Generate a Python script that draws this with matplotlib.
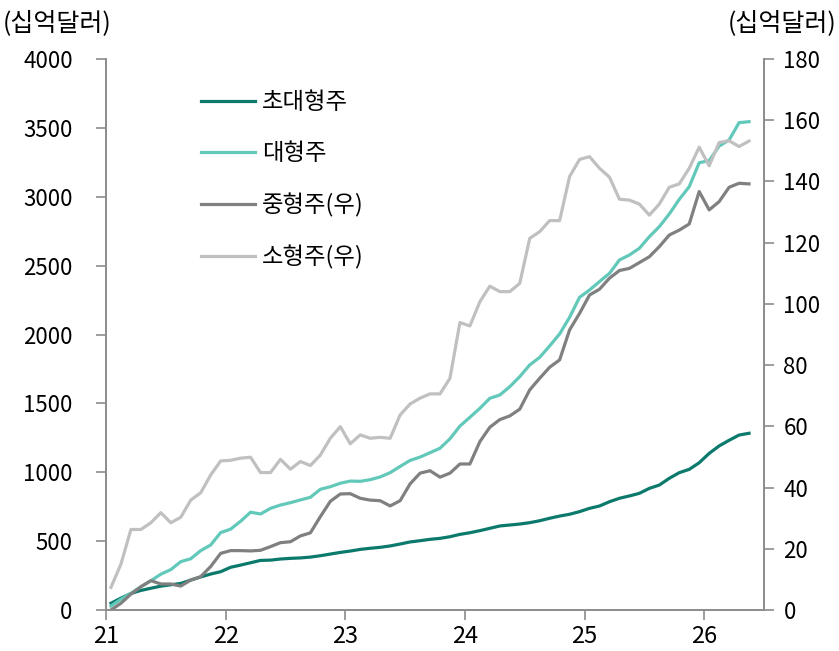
#초대형주/대형주(좌) vs 중형주/소형주(우) 추이 (십억달러)
import matplotlib
matplotlib.use('Agg')
import matplotlib.pyplot as plt
import numpy as np

plt.rcParams['font.family'] = ['Noto Sans CJK KR', 'DejaVu Sans']   #한글 깨짐 방지

# 2021.01 ~ 2026.05 월별 값
super_large = [49, 86, 120, 142, 158, 173, 183, 193, 217, 240, 261, 278, 310, 326, 343, 360,
               362, 370, 375, 378, 384, 394, 406, 418, 428, 440, 448, 455, 465, 479, 494, 503,
               513, 520, 532, 549, 561, 576, 593, 610, 617, 624, 634, 648, 666, 682, 695, 714,
               738, 755, 786, 811, 828, 847, 883, 907, 956, 997, 1021, 1069, 1137, 1191, 1232,
               1270, 1283]
large = [29, 78, 121, 169, 212, 260, 293, 351, 372, 431, 472, 562, 587, 644, 710, 697,
         738, 762, 779, 799, 818, 876, 895, 920, 936, 934, 946, 966, 997, 1042, 1086, 1110,
         1142, 1174, 1243, 1335, 1399, 1464, 1537, 1561, 1621, 1694, 1779, 1834, 1917, 2004,
         2125, 2270, 2323, 2384, 2444, 2541, 2577, 2626, 2710, 2783, 2875, 2981, 3073, 3247,
         3262, 3368, 3412, 3538, 3545]
mid = [0, 2.2, 5.2, 7.6, 9.6, 8.5, 8.5, 7.8, 9.8, 10.9, 14.2, 18.5, 19.4, 19.4, 19.3, 19.5,
       20.7, 22.0, 22.3, 24.2, 25.2, 30.5, 35.5, 37.9, 38.0, 36.5, 35.9, 35.7, 34.0, 35.7,
       41.2, 44.7, 45.5, 43.4, 44.7, 47.7, 47.7, 55.0, 59.7, 62.2, 63.4, 65.6, 71.9, 75.7,
       79.3, 81.7, 91.5, 96.9, 102.9, 104.8, 108.4, 110.9, 111.6, 113.5, 115.4, 118.7, 122.5,
       124.1, 126.1, 136.7, 130.7, 133.4, 138.1, 139.4, 139.2]
small = [7.4, 15.0, 26.3, 26.3, 28.5, 31.8, 28.5, 30.3, 35.9, 38.3, 44.1, 48.7, 48.9, 49.6,
         49.9, 44.9, 44.9, 49.2, 46.0, 48.5, 47.2, 50.6, 56.1, 59.9, 54.3, 57.2, 56.1, 56.4,
         56.1, 63.7, 67.3, 69.2, 70.6, 70.6, 75.7, 93.9, 92.8, 100.7, 105.8, 104.0, 104.0,
         106.7, 121.4, 123.6, 127.2, 127.2, 141.6, 147.2, 148.1, 144.3, 141.4, 134.2, 133.9,
         132.6, 129.0, 132.6, 138.1, 139.2, 144.3, 151.2, 145.1, 152.7, 153.3, 151.4, 153.2]
labels = ['초대형주', '대형주', '중형주(우)', '소형주(우)']
year_ticks = [21, 22, 23, 24, 25, 26]

# 월 위치 (연 단위, 월 중간)
x = 21 + (np.arange(len(large)) + 0.5) / 12

c_super = '#0b7a6c'
c_large = '#62c9ba'
c_mid = '#808080'
c_small = '#c0c0c0'
spine_c = '#8c8c8c'

fig = plt.figure(figsize=(8.39, 6.51), dpi=100)
ax = fig.add_axes([106/839, 1-610/651, (764-106)/839, (610-59)/651])
ax2 = ax.twinx()

l1, = ax.plot(x, super_large, color=c_super, lw=2.3)
l2, = ax.plot(x, large, color=c_large, lw=2.3)
l3, = ax2.plot(x, mid, color=c_mid, lw=2.3)
l4, = ax2.plot(x, small, color=c_small, lw=2.3)

ax.set_xlim(21, 26.5)
ax.set_ylim(0, 4000)
ax2.set_ylim(0, 180)
ax.set_xticks(year_ticks)
ax.set_yticks(range(0, 4001, 500))
ax2.set_yticks(range(0, 181, 20))

for a in (ax, ax2):
    a.spines['top'].set_visible(False)
    for s in ('left', 'right', 'bottom'):
        a.spines[s].set_color(spine_c)
        a.spines[s].set_linewidth(1.2)
    a.tick_params(colors=spine_c, length=7, width=1.2, labelcolor='black', labelsize=16)
ax.tick_params(axis='x', pad=4, labelsize=17)
ax.tick_params(axis='y', pad=17)
ax2.tick_params(axis='y', pad=7)

fig.text(3/839, 1-23/651, '(십억달러)', fontsize=18, va='center', ha='left')
fig.text(836/839, 1-23/651, '(십억달러)', fontsize=18, va='center', ha='right')

ax2.legend([l1, l2, l3, l4], labels, loc='upper left',
           bbox_to_anchor=(201/839, 1-91/651), bbox_transform=fig.transFigure,
           frameon=False, fontsize=16.8, handlelength=2.3, handletextpad=0.3,
           labelspacing=1.2, borderpad=0, borderaxespad=0)

plt.savefig('out.png', dpi=100)
